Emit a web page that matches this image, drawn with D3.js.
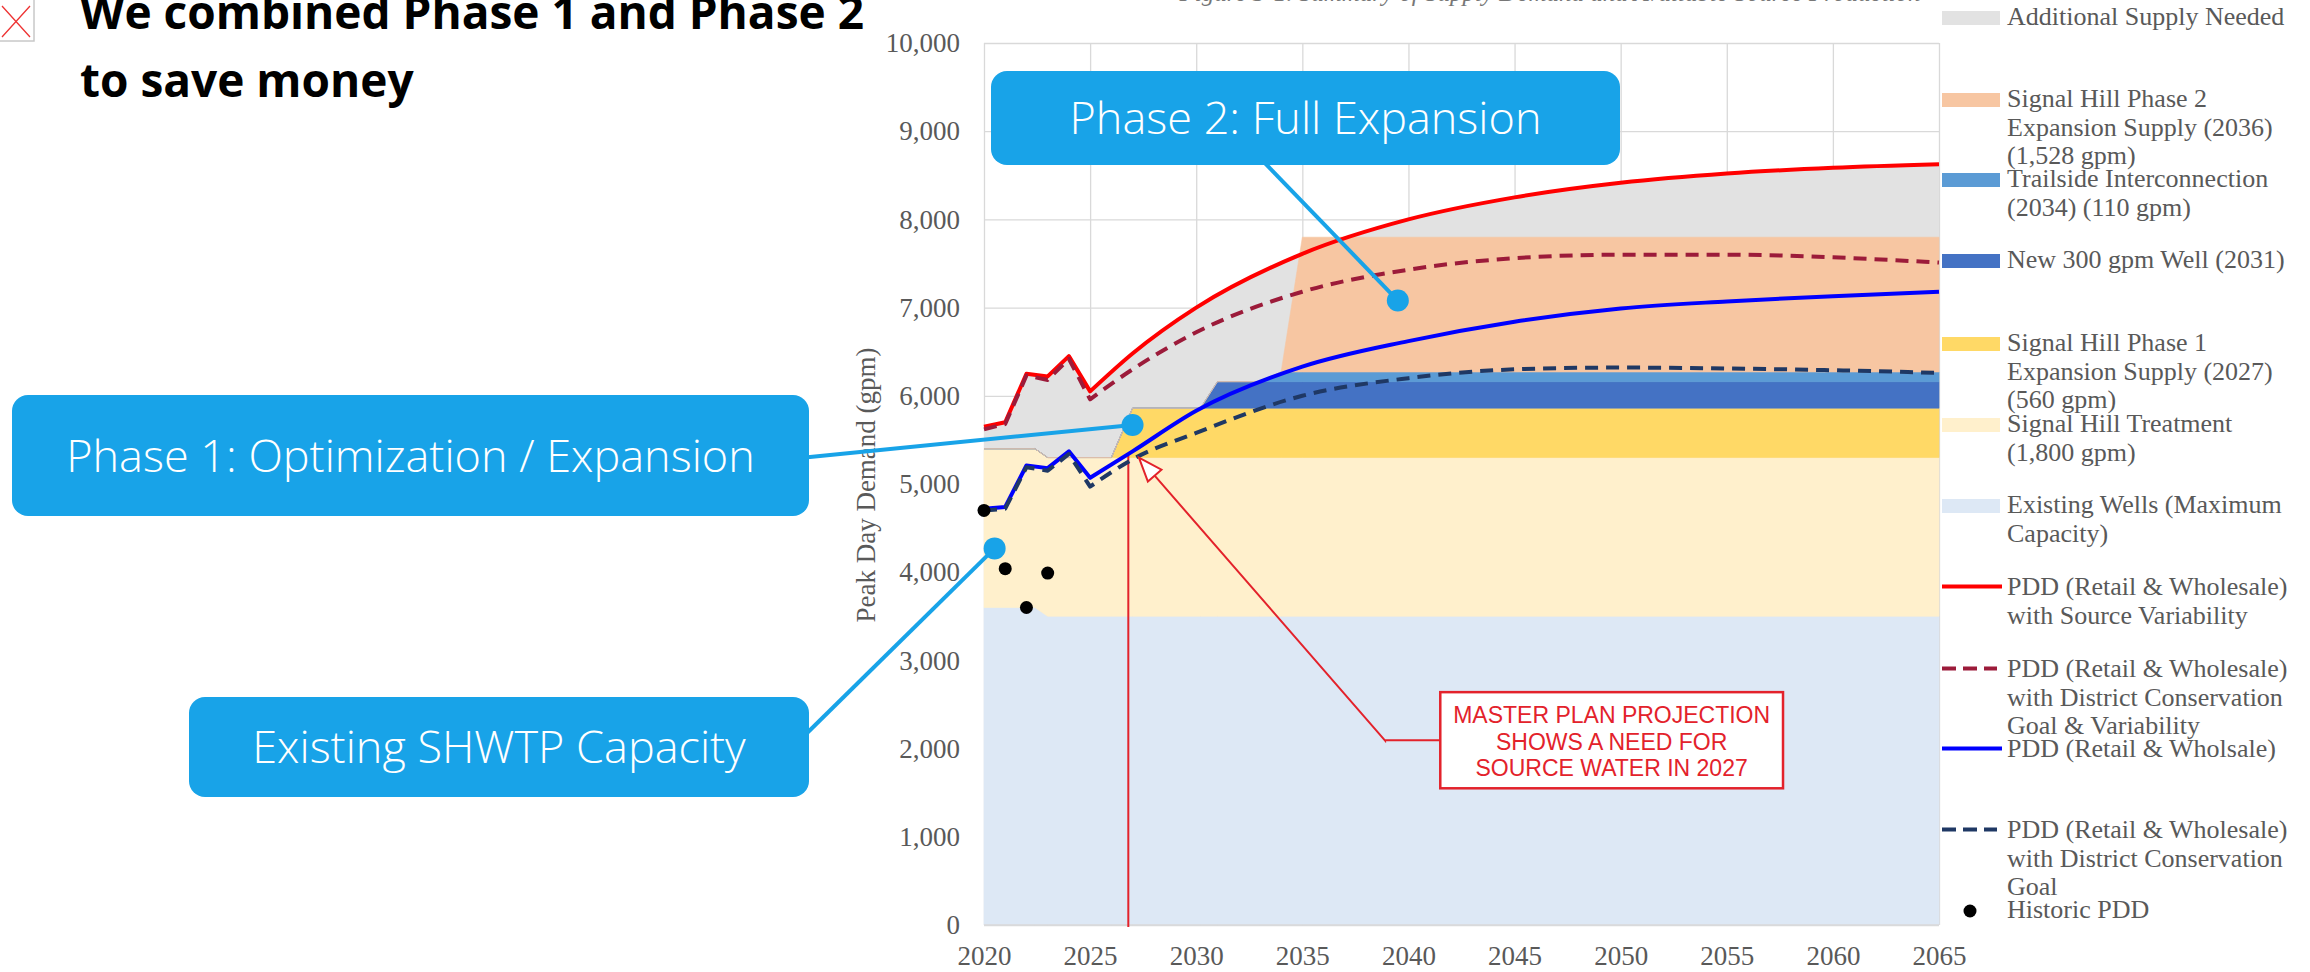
<!DOCTYPE html>
<html>
<head>
<meta charset="utf-8">
<script src="https://cdn.jsdelivr.net/npm/d3@7"></script>
<style>
  body { margin: 0; background: #fff; }
  svg { display: block; }
  .axis path, .axis line { stroke: none; }
  .axis text { font-family: "Liberation Serif", serif; font-size: 27px; fill: #595959; }
  .grid line { stroke: #d9d9d9; stroke-width: 1.3; }
  .grid path { stroke: none; }
  .legend text { font-family: "Liberation Serif", serif; font-size: 26px; fill: #595959; }
  .callout text { font-family: "Open Sans", sans-serif; font-weight: 300; font-size: 45px; fill: #fff; }
  .note text { font-family: "Liberation Sans", Arial, sans-serif; font-size: 23px; fill: #e3222b; }
</style>
</head>
<body>
<svg id="chart" width="2310" height="972"></svg>
<script>
// demand projections (gpm)
var years = [2020, 2021, 2022, 2023, 2024, 2025, 2027, 2030, 2035, 2040, 2045, 2050, 2055, 2060, 2065];
var pddVariability     = [5650, 5700, 6250, 6220, 6450, 6050, 6480, 7000, 7610, 8000, 8250, 8415, 8520, 8585, 8625];
var pddConsVariability = [5620, 5680, 6230, 6180, 6420, 5960, 6300, 6720, 7180, 7430, 7560, 7600, 7600, 7570, 7510];
var pddBase            = [4720, 4740, 5210, 5180, 5370, 5070, 5370, 5830, 6330, 6620, 6840, 6990, 7070, 7130, 7180];
var pddCons            = [4700, 4720, 5190, 5150, 5340, 4970, 5280, 5580, 6000, 6200, 6300, 6320, 6310, 6290, 6260];
var splitYear = 2025; // measured data before, smooth projection after

// historic peak day demand
var histYears = [2020, 2021, 2022, 2023];
var histPDD = [4700, 4040, 3600, 3990];

// supply stack (gpm)
var supplyYears   = [2020, 2022.4, 2023, 2026, 2027, 2030.2, 2031, 2033, 2034, 2035, 2065];
var existingWells = [3600, 3600, 3500, 3500, 3500, 3500, 3500, 3500, 3500, 3500, 3500];
var shTreatment   = [1800, 1800, 1800, 1800, 1800, 1800, 1800, 1800, 1800, 1800, 1800];
var phase1        = [0, 0, 0, 0, 560, 560, 560, 560, 560, 560, 560];
var newWell       = [0, 0, 0, 0, 0, 0, 300, 300, 300, 300, 300];
var trailside     = [0, 0, 0, 0, 0, 0, 0, 0, 110, 110, 110];
var phase2        = [0, 0, 0, 0, 0, 0, 0, 0, 0, 1528, 1528];

var xTicks = [2020, 2025, 2030, 2035, 2040, 2045, 2050, 2055, 2060, 2065];
var yTicks = [0, 1000, 2000, 3000, 4000, 5000, 6000, 7000, 8000, 9000, 10000];

// annotation anchors in data units
var noteYear = 2026.8, noteTop = 5330;
var arrowTip = [2027.3, 5300], arrowBend = [2038.9, 2090];
var noteBox = {x0: 2041.5, x1: 2057.65, y0: 2640, y1: 1550};
var noteLines = ["MASTER PLAN PROJECTION", "SHOWS A NEED FOR", "SOURCE WATER IN 2027"];

var legendItems = [
  {type: "area", color: "#e2e2e2", lines: ["Additional Supply Needed"]},
  {type: "area", color: "#f7c6a2", lines: ["Signal Hill Phase 2", "Expansion Supply (2036)", "(1,528 gpm)"]},
  {type: "area", color: "#5b9bd5", lines: ["Trailside Interconnection", "(2034) (110 gpm)"]},
  {type: "area", color: "#4472c4", lines: ["New 300 gpm Well (2031)"]},
  {type: "area", color: "#ffd966", lines: ["Signal Hill Phase 1", "Expansion Supply (2027)", "(560 gpm)"]},
  {type: "area", color: "#fff0cc", lines: ["Signal Hill Treatment", "(1,800 gpm)"]},
  {type: "area", color: "#dde8f5", lines: ["Existing Wells (Maximum", "Capacity)"]},
  {type: "line", color: "#ff0000", dash: null, lines: ["PDD (Retail & Wholesale)", "with Source Variability"]},
  {type: "line", color: "#9c1b3a", dash: "13,8", lines: ["PDD (Retail & Wholesale)", "with District Conservation", "Goal & Variability"]},
  {type: "line", color: "#0000ff", dash: null, lines: ["PDD (Retail & Wholsale)"]},
  {type: "line", color: "#1f3864", dash: "13,8", lines: ["PDD (Retail & Wholesale)", "with District Conservation", "Goal"]},
  {type: "dot", color: "#000", lines: ["Historic PDD"]}
];
var legendBaselines = [25, 107, 187, 268, 351, 432, 513, 595, 677, 757, 838, 918];

var svg = d3.select("#chart");
var x = d3.scaleLinear().domain([2020, 2065]).range([984, 1939]);
var y = d3.scaleLinear().domain([0, 10000]).range([925, 43]);

// top-left broken image icon + clipped figure caption
svg.append("rect").attr("x", -2).attr("y", -2).attr("width", 36).attr("height", 43)
  .attr("fill", "none").attr("stroke", "#c8c8c8").attr("stroke-width", 1.5);
svg.append("path").attr("d", "M2,6L30,37M30,6L2,37").attr("stroke", "#e33").attr("stroke-width", 1.3);
svg.append("text").attr("x", 1550).attr("y", 1).attr("text-anchor", "middle")
  .attr("font-family", "Liberation Serif, serif").attr("font-style", "italic").attr("font-size", 25)
  .attr("fill", "#777").text("Figure 3-1. Summary of Supply Demand and Available Source Production");

// headline
var head = svg.append("text").attr("font-family", "Open Sans, sans-serif").attr("font-weight", 700)
  .attr("font-size", 46).attr("fill", "#000");
head.append("tspan").attr("x", 80).attr("y", 29).text("We combined Phase 1 and Phase 2");
head.append("tspan").attr("x", 80).attr("y", 97).text("to save money");

// gridlines
svg.append("g").attr("class", "grid").attr("transform", "translate(0," + y(0) + ")")
  .call(d3.axisBottom(x).tickValues(xTicks).tickSize(-(y(0) - y(10000))).tickFormat(""));
svg.append("g").attr("class", "grid").attr("transform", "translate(" + x(2020) + ",0)")
  .call(d3.axisLeft(y).tickValues(yTicks).tickSize(-(x(2065) - x(2020))).tickFormat(""));

// helper: linear through the measured years, smooth after
function mixedPath(vals) {
  var pts = years.map(function(d, i) { return [d, vals[i]]; });
  var a = pts.filter(function(p) { return p[0] <= splitYear; });
  var b = pts.filter(function(p) { return p[0] >= splitYear; });
  var l1 = d3.line().x(function(p) { return x(p[0]); }).y(function(p) { return y(p[1]); });
  var l2 = d3.line().curve(d3.curveMonotoneX).x(function(p) { return x(p[0]); }).y(function(p) { return y(p[1]); });
  return l1(a) + l2(b).replace(/^M/, "L");
}

// additional supply needed: area under the variability demand, later covered by supply
svg.append("path")
  .attr("d", mixedPath(pddVariability) + "L" + x(2065) + "," + y(0) + "L" + x(2020) + "," + y(0) + "Z")
  .attr("fill", "#e2e2e2");

// supply stack
var supplyKeys = ["existingWells", "shTreatment", "phase1", "newWell", "trailside", "phase2"];
var supplyColors = ["#dde8f5", "#fff0cc", "#ffd966", "#4472c4", "#5b9bd5", "#f7c6a2"];
var supplyTable = supplyYears.map(function(yr, i) {
  return {year: yr, existingWells: existingWells[i], shTreatment: shTreatment[i], phase1: phase1[i],
          newWell: newWell[i], trailside: trailside[i], phase2: phase2[i]};
});
var stacked = d3.stack().keys(supplyKeys)(supplyTable);
var supplyArea = d3.area()
  .x(function(d) { return x(d.data.year); })
  .y0(function(d) { return y(d[0]); })
  .y1(function(d) { return y(d[1]); });
svg.append("g").selectAll("path").data(stacked).enter().append("path")
  .attr("d", supplyArea)
  .attr("fill", function(d, i) { return supplyColors[i]; })
  .attr("stroke", function(d, i) { return supplyColors[i]; })
  .attr("stroke-width", 0.6);

// axes labels
var xAxis = svg.append("g").attr("class", "axis").attr("transform", "translate(0," + y(0) + ")")
  .call(d3.axisBottom(x).tickValues(xTicks).tickSize(0).tickPadding(21).tickFormat(d3.format("d")));
xAxis.select(".domain").remove();
svg.append("line").attr("x1", x(2020)).attr("x2", x(2065)).attr("y1", y(0)).attr("y2", y(0))
  .attr("stroke", "#d9d9d9").attr("stroke-width", 1.3);
var yAxis = svg.append("g").attr("class", "axis").attr("transform", "translate(" + x(2020) + ",0)")
  .call(d3.axisLeft(y).tickValues(yTicks).tickSize(0).tickPadding(24).tickFormat(d3.format(",")));
yAxis.select(".domain").remove();
svg.append("text").attr("transform", "translate(875," + ((y(0) + y(10000)) / 2 + 1) + ") rotate(-90)")
  .attr("text-anchor", "middle").attr("font-family", "Liberation Serif, serif").attr("font-size", 27)
  .attr("fill", "#595959").text("Peak Day Demand (gpm)");

// red 2027 marker line
svg.append("line").attr("x1", x(noteYear)).attr("x2", x(noteYear)).attr("y1", y(noteTop)).attr("y2", y(0) + 2)
  .attr("stroke", "#e3222b").attr("stroke-width", 2);

// demand lines
var demandSeries = [
  {vals: pddVariability, color: "#ff0000", dash: null},
  {vals: pddConsVariability, color: "#9c1b3a", dash: "13,8"},
  {vals: pddBase, color: "#0000ff", dash: null},
  {vals: pddCons, color: "#1f3864", dash: "13,8"}
];
demandSeries.forEach(function(s) {
  svg.append("path").attr("d", mixedPath(s.vals)).attr("fill", "none")
    .attr("stroke", s.color).attr("stroke-width", 4).attr("stroke-dasharray", s.dash)
    .attr("stroke-linejoin", "round");
});

svg.append("g").selectAll("circle").data(histYears).enter().append("circle")
  .attr("cx", function(d) { return x(d); })
  .attr("cy", function(d, i) { return y(histPDD[i]); })
  .attr("r", 6.5).attr("fill", "#000");

// note box + arrow
var note = svg.append("g").attr("class", "note");
var tip = [x(arrowTip[0]), y(arrowTip[1])], bend = [x(arrowBend[0]), y(arrowBend[1])];
var bx0 = x(noteBox.x0), bx1 = x(noteBox.x1), by0 = y(noteBox.y0), by1 = y(noteBox.y1);
var midY = (by0 + by1) / 2;
var ang = Math.atan2(tip[1] - bend[1], tip[0] - bend[0]);
var headLen = 24, headW = 9;
var base = [tip[0] - headLen * Math.cos(ang), tip[1] - headLen * Math.sin(ang)];
note.append("polyline")
  .attr("points", [[bx0, midY], [bend[0], midY], bend, base].map(function(p) { return p.join(","); }).join(" "))
  .attr("fill", "none").attr("stroke", "#e3222b").attr("stroke-width", 2);
note.append("polygon")
  .attr("points", [tip,
    [base[0] + headW * Math.sin(ang), base[1] - headW * Math.cos(ang)],
    [base[0] - headW * Math.sin(ang), base[1] + headW * Math.cos(ang)]].map(function(p) { return p.join(","); }).join(" "))
  .attr("fill", "#fff").attr("stroke", "#e3222b").attr("stroke-width", 2);
note.append("rect").attr("x", bx0).attr("y", by0).attr("width", bx1 - bx0).attr("height", by1 - by0)
  .attr("fill", "#fff").attr("stroke", "#e3222b").attr("stroke-width", 2.5);
note.selectAll("text.n").data(noteLines).enter().append("text")
  .attr("x", (bx0 + bx1) / 2).attr("y", function(d, i) { return by0 + 31 + i * 26.5; })
  .attr("text-anchor", "middle").text(function(d) { return d; });

// legend
var lg = svg.append("g").attr("class", "legend");
legendItems.forEach(function(it, i) {
  var b = legendBaselines[i];
  if (it.type === "area") {
    lg.append("rect").attr("x", 1942).attr("y", b - 14).attr("width", 58).attr("height", 14).attr("fill", it.color);
  } else if (it.type === "line") {
    lg.append("line").attr("x1", 1942).attr("x2", it.dash ? 1997 : 2002).attr("y1", b - 8.5).attr("y2", b - 8.5)
      .attr("stroke", it.color).attr("stroke-width", 4).attr("stroke-dasharray", it.dash ? "14,7" : null);
  } else {
    lg.append("circle").attr("cx", 1970).attr("cy", b - 7).attr("r", 6.5).attr("fill", it.color);
  }
  it.lines.forEach(function(t, j) {
    lg.append("text").attr("x", 2007).attr("y", b + j * 28.5).text(t);
  });
});

// callouts
var calloutBlue = "#18a3e8";
var callouts = [
  {text: "Phase 2: Full Expansion", box: [991, 71, 629, 94], from: [1262, 160], dot: [2039.5, 7080]},
  {text: "Phase 1: Optimization / Expansion", box: [12, 395, 797, 121], from: [800, 458], dot: [2027, 5670]},
  {text: "Existing SHWTP Capacity", box: [189, 697, 620, 100], from: [800, 740], dot: [2020.5, 4270]}
];
var cg = svg.append("g").attr("class", "callout");
callouts.forEach(function(c) {
  var dx = x(c.dot[0]), dy = y(c.dot[1]);
  cg.append("line").attr("x1", c.from[0]).attr("y1", c.from[1]).attr("x2", dx).attr("y2", dy)
    .attr("stroke", calloutBlue).attr("stroke-width", 4);
  cg.append("circle").attr("cx", dx).attr("cy", dy).attr("r", 11).attr("fill", calloutBlue);
  cg.append("rect").attr("x", c.box[0]).attr("y", c.box[1]).attr("width", c.box[2]).attr("height", c.box[3])
    .attr("rx", 16).attr("fill", calloutBlue);
  cg.append("text").attr("x", c.box[0] + c.box[2] / 2).attr("y", c.box[1] + c.box[3] / 2).attr("dy", "0.36em")
    .attr("text-anchor", "middle").text(c.text);
});
</script>
</body>
</html>
